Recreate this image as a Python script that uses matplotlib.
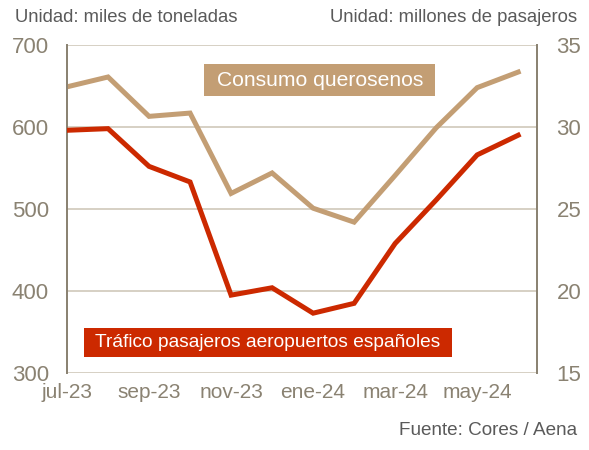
import matplotlib
matplotlib.use("Agg")
from matplotlib import pyplot as plt

plt.rcParams['font.family'] = ['Liberation Sans', 'DejaVu Sans']

meses = ['jul-23', 'ago-23', 'sep-23', 'oct-23', 'nov-23', 'dic-23',
         'ene-24', 'feb-24', 'mar-24', 'abr-24', 'may-24', 'jun-24']
queroseno = [649, 661, 613, 617, 519, 544, 501, 484, 541, 599, 648, 667]
pasajeros = [29.8, 29.9, 27.6, 26.65, 19.75, 20.2, 18.65, 19.25, 22.9, 25.55, 28.3, 29.5]

TAN = '#c39e74'
RED = '#cc2900'
GRAY = '#8a8272'
GRID = '#cfc8ba'

def main():
    fig = plt.figure(figsize=(5.89, 4.5), dpi=100)
    ax = fig.add_axes([0.1138, 0.171, 0.798, 0.729])
    ax2 = ax.twinx()

    x = list(range(len(meses)))
    ax.plot(x, queroseno, color=TAN, lw=3.6, solid_joinstyle='miter', zorder=3)
    ax2.plot(x, pasajeros, color=RED, lw=3.6, solid_joinstyle='miter', zorder=3)

    ax.set_xlim(0, 11.46)
    ax.set_ylim(300, 700)
    ax2.set_ylim(15, 35)
    ax.set_yticks([300, 400, 500, 600, 700])
    ax2.set_yticks([15, 20, 25, 30, 35])
    ax.set_xticks(x[::2])
    ax.set_xticklabels(meses[::2])
    ax.grid(axis='y', color=GRID, lw=1.2)
    ax.set_axisbelow(True)

    for a in (ax, ax2):
        a.spines['top'].set_visible(False)
        a.spines['bottom'].set_visible(False)
        a.spines['left'].set_color(GRAY)
        a.spines['right'].set_color(GRAY)
        a.spines['left'].set_linewidth(1.3)
        a.spines['right'].set_linewidth(1.3)
        a.tick_params(length=0, labelcolor=GRAY)
    ax.tick_params(axis='x', labelsize=15, pad=7)
    ax.tick_params(axis='y', labelsize=16, pad=13)
    ax2.tick_params(axis='y', labelsize=16, pad=14)

    ax.text(6.16, 657, ' Consumo querosenos ', color='white', fontsize=15.2,
            ha='center', va='center', zorder=5,
            bbox=dict(boxstyle='square,pad=0.3', fc=TAN, ec='none'))
    ax2.text(4.9, 16.86, ' Tráfico pasajeros aeropuertos españoles ', color='white',
             fontsize=13.8, ha='center', va='center', zorder=5,
             bbox=dict(boxstyle='square,pad=0.32', fc=RED, ec='none'))

    fig.text(0.025, 0.962, 'Unidad: miles de toneladas', fontsize=13.3,
             color='#5a5a5a', ha='left', va='center')
    fig.text(0.98, 0.962, 'Unidad: millones de pasajeros', fontsize=13.3,
             color='#5a5a5a', ha='right', va='center')
    fig.text(0.98, 0.025, 'Fuente: Cores / Aena', fontsize=13.6,
             color='#5a5a5a', ha='right', va='bottom')

    fig.savefig('out.png', dpi=100)

if __name__ == "__main__":
    main()
